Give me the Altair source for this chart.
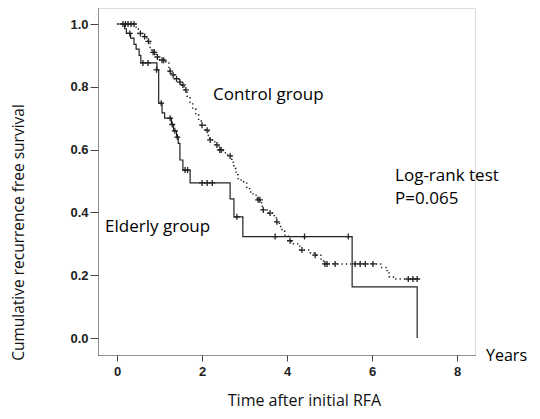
import altair as alt
import pandas as pd

# Elderly group: Kaplan-Meier steps (time in years, survival)
eld_t = [0.0, 0.18, 0.22, 0.32, 0.40, 0.45, 0.52, 0.56, 0.94, 0.98, 1.06, 1.12, 1.28, 1.33,
         1.40, 1.44, 1.48, 1.55, 1.72, 2.66, 2.75, 2.96, 5.53, 7.06, 7.06]
eld_s = [1.0, 0.985, 0.97, 0.955, 0.935, 0.92, 0.90, 0.876, 0.854, 0.748, 0.717, 0.70, 0.68, 0.66,
         0.64, 0.62, 0.567, 0.535, 0.494, 0.443, 0.386, 0.323, 0.163, 0.0, 0.0]
# Elderly censored observations
eld_ct = [0.30, 0.61, 0.73, 0.93, 1.04, 1.25, 1.30, 1.36, 1.42, 1.60, 1.66, 2.00, 2.12, 2.24,
          2.82, 3.72, 4.41, 5.44]
eld_cs = [0.97, 0.876, 0.876, 0.854, 0.748, 0.70, 0.68, 0.66, 0.64, 0.535, 0.535, 0.494, 0.494,
          0.494, 0.386, 0.323, 0.323, 0.323]

# Control group: Kaplan-Meier steps
ctl_t = [0.0, 0.45, 0.50, 0.60, 0.70, 0.78, 0.82, 0.92, 1.00, 1.15, 1.22, 1.28, 1.35, 1.45,
         1.52, 1.58, 1.65, 1.72, 1.78, 1.85, 1.92, 1.98, 2.08, 2.15, 2.18, 2.30, 2.40, 2.50,
         2.60, 2.70, 2.75, 2.80, 2.85, 2.98, 3.05, 3.12, 3.20, 3.30, 3.40, 3.44, 3.55, 3.70,
         3.75, 3.82, 3.88, 3.95, 4.02, 4.10, 4.30, 4.55, 4.65, 4.80, 4.88, 6.20, 6.35, 6.40,
         6.50, 7.13]
ctl_s = [1.0, 0.985, 0.97, 0.96, 0.945, 0.925, 0.91, 0.895, 0.885, 0.876, 0.85, 0.838, 0.826,
         0.815, 0.806, 0.79, 0.77, 0.75, 0.73, 0.71, 0.692, 0.678, 0.662, 0.645, 0.631, 0.615,
         0.599, 0.59, 0.58, 0.56, 0.54, 0.52, 0.503, 0.497, 0.48, 0.465, 0.455, 0.44, 0.42,
         0.408, 0.398, 0.385, 0.37, 0.355, 0.34, 0.325, 0.31, 0.30, 0.28, 0.27, 0.264, 0.245,
         0.236, 0.225, 0.21, 0.195, 0.188, 0.188]
# Control censored observations
ctl_ct = [0.14, 0.20, 0.26, 0.33, 0.40, 0.55, 0.65, 0.74, 0.85, 0.88, 0.95, 1.06, 1.10, 1.25,
          1.32, 1.40, 1.48, 1.55, 1.62, 2.00, 2.12, 2.19, 2.35, 2.42, 2.45, 2.66, 3.32, 3.36,
          3.44, 3.60, 3.76, 4.07, 4.35, 4.66, 4.89, 4.94, 5.13, 5.60, 5.72, 5.84, 6.02, 6.85,
          6.96, 7.06]
ctl_cs = [1.0, 1.0, 1.0, 1.0, 1.0, 0.97, 0.96, 0.945, 0.91, 0.91, 0.895, 0.885, 0.885, 0.85,
          0.838, 0.826, 0.815, 0.806, 0.79, 0.678, 0.662, 0.631, 0.615, 0.599, 0.599, 0.58,
          0.44, 0.44, 0.408, 0.398, 0.37, 0.31, 0.28, 0.264, 0.236, 0.236, 0.236, 0.236, 0.236,
          0.236, 0.236, 0.188, 0.188, 0.188]

# Annotations
ann_text = ["Control group", "Log-rank test", "P=0.065", "Elderly group"]
ann_t = [2.26, 6.54, 6.54, -0.28]
ann_s = [0.774, 0.516, 0.443, 0.353]
unit_text = ["Years"]
unit_t = [8.68]
unit_s = [-0.057]

y_ticks = [0.0, 0.2, 0.4, 0.6, 0.8, 1.0]
x_ticks = [0, 2, 4, 6, 8]

eld = pd.DataFrame({"t": eld_t, "s": eld_s})
ctl = pd.DataFrame({"t": ctl_t, "s": ctl_s})
eldc = pd.DataFrame({"t": eld_ct, "s": eld_cs})
ctlc = pd.DataFrame({"t": ctl_ct, "s": ctl_cs})
ann = pd.DataFrame({"label": ann_text, "t": ann_t, "s": ann_s})
unit = pd.DataFrame({"label": unit_text, "t": unit_t, "s": unit_s})

xscale = alt.Scale(domain=[-0.447, 8.42], nice=False, zero=False)
yscale = alt.Scale(domain=[-0.054, 1.051], nice=False, zero=False)

xaxis = alt.Axis(values=x_ticks, format="d", title="Time after initial RFA",
                 titleX=206, titleY=50, titleBaseline="alphabetic", titleAlign="center",
                 titleFontSize=16, titleFont="Open Sans", titleFontWeight="normal",
                 titleColor="#111", labelFontSize=13, labelFont="Liberation Sans",
                 labelFontWeight="bold", labelColor="#222", tickSize=6, labelPadding=4,
                 domainColor="#444", tickColor="#444", grid=False, domainDash=[1, 1])
yaxis = alt.Axis(values=y_ticks, format=".1f", title="Cumulative recurrence free survival",
                 titleX=-80, titleY=224, titleBaseline="middle", titleAlign="center",
                 titleFontSize=15.5, titleFont="Open Sans", titleFontWeight="normal",
                 titleColor="#111", labelFontSize=13, labelFont="Liberation Sans",
                 labelFontWeight="bold", labelColor="#222", tickSize=8, labelPadding=2,
                 domainColor="#444", tickColor="#444", grid=False, domainDash=[1, 1])

X = alt.X("t:Q", scale=xscale, axis=xaxis)
Y = alt.Y("s:Q", scale=yscale, axis=yaxis)

plus = "M-1,0L1,0M0,-1L0,1"

eld_line = alt.Chart(eld).mark_line(interpolate="step-after", color="#222",
                                    strokeWidth=1.2).encode(x=X, y=Y, order="t:Q")
ctl_line = alt.Chart(ctl).mark_line(interpolate="step-after", color="#222", strokeWidth=1.5,
                                    strokeDash=[1.3, 3]).encode(x=X, y=Y)
eld_pts = alt.Chart(eldc).mark_point(shape=plus, filled=False, color="#222", size=36,
                                     strokeWidth=1.3, opacity=1).encode(x=X, y=Y)
ctl_pts = alt.Chart(ctlc).mark_point(shape=plus, filled=False, color="#222", size=36,
                                     strokeWidth=1.3, opacity=1).encode(x=X, y=Y)
texts = alt.Chart(ann).mark_text(align="left", baseline="middle", font="Open Sans",
                                 fontSize=17, color="#000").encode(x=X, y=Y, text="label:N")
unit_txt = alt.Chart(unit).mark_text(align="left", baseline="middle", font="Open Sans",
                                     fontSize=16, color="#000").encode(x=X, y=Y, text="label:N")

chart = alt.layer(eld_line, ctl_line, eld_pts, ctl_pts, texts, unit_txt).properties(
    width=377, height=347,
    autosize=alt.AutoSizeParams(type="none"),
    padding={"left": 90, "top": 0, "right": 57, "bottom": 56},
).configure_view(stroke=None).configure(background="white")

chart.save("out.html", embed_options={"renderer": "svg", "actions": False})
